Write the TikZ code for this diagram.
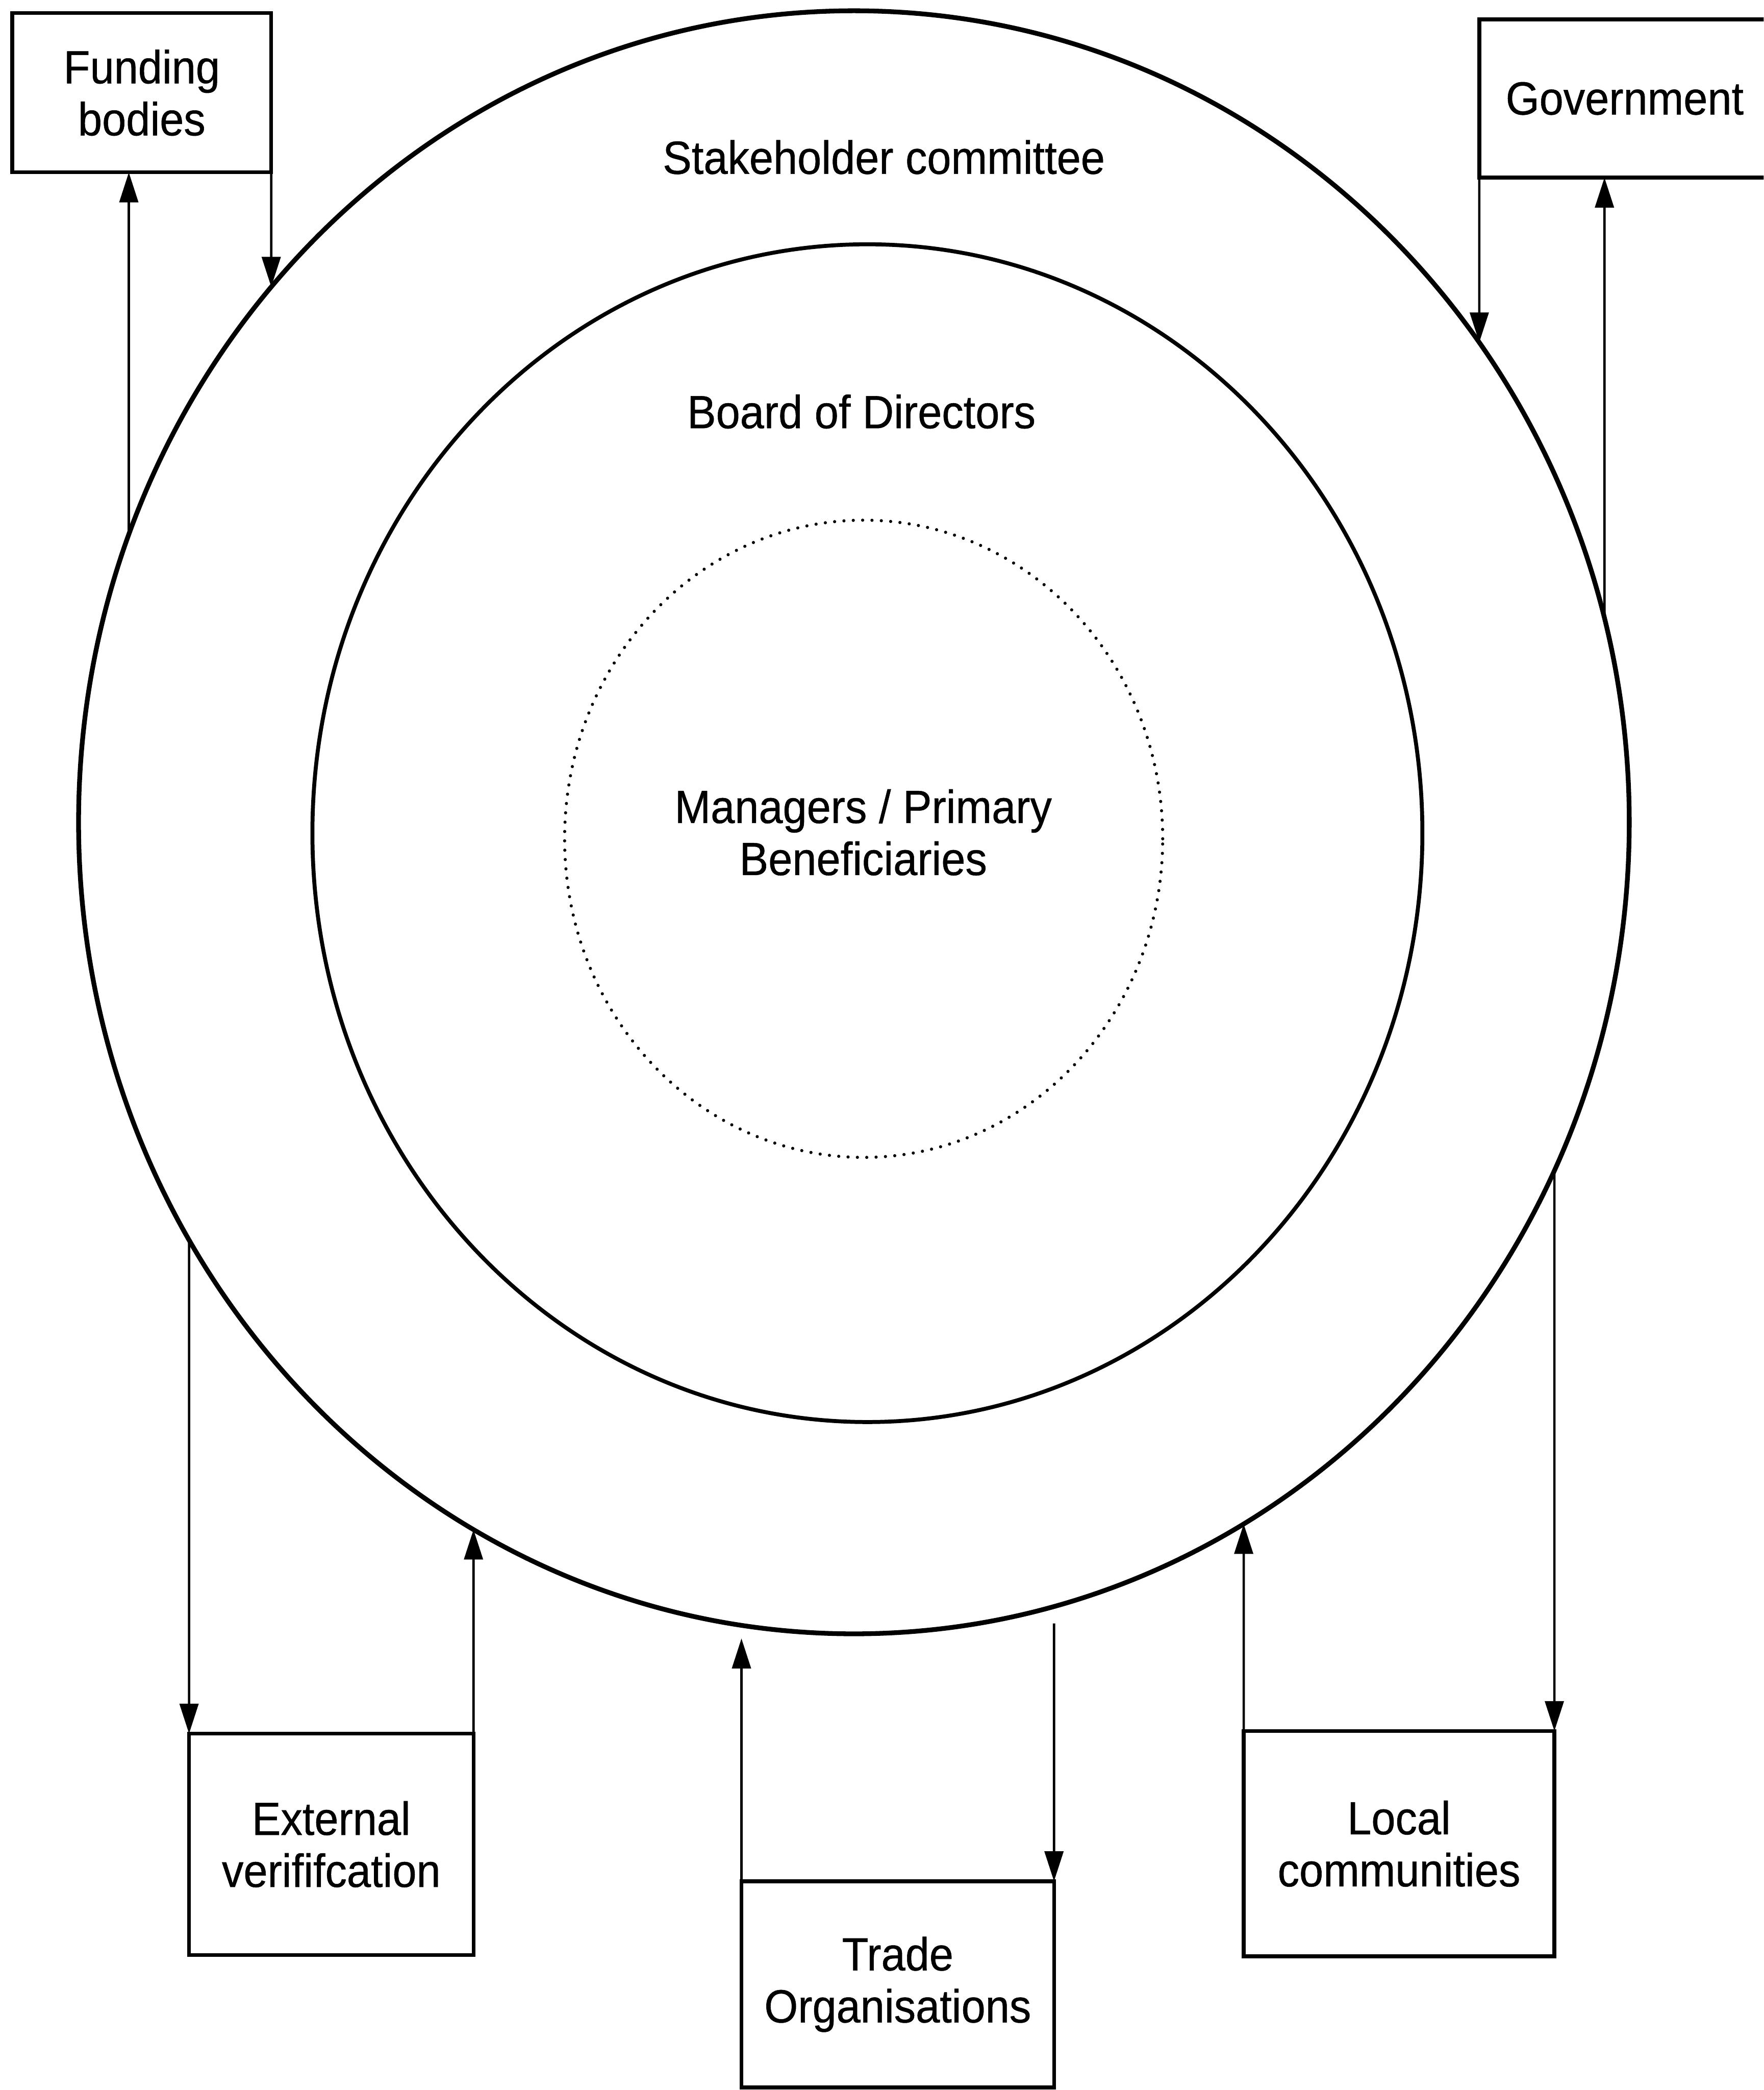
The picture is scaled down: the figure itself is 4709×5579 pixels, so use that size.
\documentclass[tikz,border=0pt]{standalone}
\usepackage{fontspec}
\newfontfamily\labfont{Liberation Sans}[FakeStretch=0.93,FakeBold=0.6]
\usetikzlibrary{arrows.meta,intersections,calc}
\begin{document}
\begin{tikzpicture}[x=0.01cm,y=-0.01cm,
  lab/.style={font=\labfont\fontsize{35.3pt}{39.5pt}\selectfont, inner sep=0pt, align=center},
  boxnode/.style={lab, draw, rectangle, line width=2.8pt, inner sep=0pt, outer sep=0pt},
  outerring/.style={line width=3.6pt},
  midring/.style={line width=3.0pt},
  dotring/.style={line width=2.4pt, line cap=round, dash pattern=on 0pt off 7.1pt},
  conn/.style={line width=1.8pt, -{Triangle[length=8mm,width=5mm]}},
]
\useasboundingbox (0,0) rectangle (4709,5579);
\clip (0,0) rectangle (4709,5579);
\fill[white] (0,0) rectangle (4709,5579);

% rings
\coordinate (cen) at (2280,2195);
\coordinate (midc) at (2316,2224);
\coordinate (inc) at (2306,2239);
\draw[outerring, name path=outer] (cen) ellipse [x radius=20.69cm, y radius=21.65cm];
\draw[midring] (midc) ellipse [x radius=14.81cm, y radius=15.71cm];
\draw[dotring] (inc) ellipse [x radius=7.98cm, y radius=8.50cm];

% ring labels
\node[lab, anchor=base] (stake) at (2360,464) {Stakeholder committee};
\node[lab, anchor=base] (board) at (2300,1143) {Board of Directors};
\node[lab] (mgr) at (2305,2222) {Managers / Primary\\Beneficiaries};

% boxes
\node[boxnode, minimum width=6.91cm, minimum height=4.25cm] (fund) at (378.5,247.5) {Funding\\bodies};
\node[boxnode, minimum width=7.76cm, minimum height=4.22cm] (gov) at (4338,263) {Government};
\node[boxnode, minimum width=7.59cm, minimum height=5.90cm] (ext) at (884.5,4923) {External\\verififcation};
\node[boxnode, minimum width=8.34cm, minimum height=5.50cm] (trade) at (2397,5297) {Trade\\Organisations};
\node[boxnode, minimum width=8.29cm, minimum height=6.01cm] (local) at (3735.5,4921.5) {Local\\communities};

% attachment points on boxes
\coordinate (fa) at ([xshift=-0.345cm]fund.south);
\coordinate (fb) at (fund.south east);
\coordinate (ga) at (gov.south west);
\coordinate (gb) at ([xshift=-0.54cm]gov.south);
\coordinate (ea) at (ext.north west);
\coordinate (eb) at (ext.north east);
\coordinate (ta) at (trade.north west);
\coordinate (tb) at (trade.north east);
\coordinate (la) at (local.north west);
\coordinate (lb) at (local.north east);

% vertical guide paths to find ring points
\path[name path=vfa] (fa) -- (fa |- cen);
\path[name path=vfb] (fb) -- (fb |- cen);
\path[name path=vga] (ga) -- (ga |- cen);
\path[name path=vgb] (gb) -- (gb |- cen);
\path[name path=vea] (ea) -- (ea |- cen);
\path[name path=veb] (eb) -- (eb |- cen);
\path[name path=vta] (ta) -- (ta |- cen);
\path[name path=vtb] (tb) -- (tb |- cen);
\path[name path=vla] (la) -- (la |- cen);
\path[name path=vlb] (lb) -- (lb |- cen);
\path[name intersections={of=outer and vfa, by=ofa}];
\path[name intersections={of=outer and vfb, by=ofb}];
\path[name intersections={of=outer and vga, by=oga}];
\path[name intersections={of=outer and vgb, by=ogb}];
\path[name intersections={of=outer and vea, by=oea}];
\path[name intersections={of=outer and veb, by=oeb}];
\path[name intersections={of=outer and vta, by=ota}];
\path[name intersections={of=outer and vtb, by=otb}];
\path[name intersections={of=outer and vla, by=ola}];
\path[name intersections={of=outer and vlb, by=olb}];

% connectors
\draw[conn] (ofa) -- (fa);
\draw[conn] (fb) -- (ofb);
\draw[conn] (ga) -- (oga);
\draw[conn] (ogb) -- (gb);
\draw[conn] (oea) -- (ea);
\draw[conn] (eb) -- (oeb);
\draw[conn] (ta) -- ([yshift=-0.35cm]ota);
\draw[conn] ([yshift=-0.45cm]otb) -- (tb);
\draw[conn] (la) -- (ola);
\draw[conn] (olb) -- (lb);
\end{tikzpicture}
\end{document}
